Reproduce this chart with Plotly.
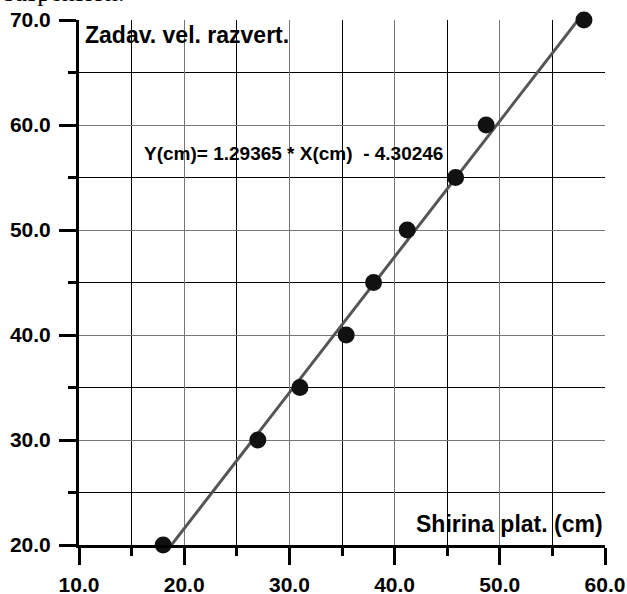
import plotly.graph_objects as go

# Data
x_vals = [18.0, 27.0, 31.0, 35.4, 38.0, 41.2, 45.8, 48.7, 58.0]
y_vals = [20, 30, 35, 40, 45, 50, 55, 60, 70]
slope = 1.29365
intercept = -4.30246
fit_x = [18.0, 58.2]
fit_y = [slope * v + intercept for v in fit_x]

x_ticks = [10, 20, 30, 40, 50, 60]
y_ticks = [20, 30, 40, 50, 60, 70]

FONT = "Liberation Sans, Arial, sans-serif"

fig = go.Figure()
fig.add_trace(go.Scatter(x=fit_x, y=fit_y, mode="lines",
                         line=dict(color="#555555", width=3), hoverinfo="skip"))
fig.add_trace(go.Scatter(x=x_vals, y=y_vals, mode="markers",
                         marker=dict(color="#111111", size=17), cliponaxis=False))

axis_common = dict(
    showline=True, linecolor="black", linewidth=3,
    ticks="outside", ticklen=17, tickwidth=3, tickcolor="black",
    showgrid=True, gridcolor="#777777", gridwidth=1,
    tickformat=".1f", zeroline=False, automargin=False,
    tickfont=dict(family=FONT, size=21, color="black", weight="bold"),
    minor=dict(dtick=5, ticks="outside", ticklen=8, tickwidth=3, tickcolor="black",
               showgrid=True, gridcolor="black", gridwidth=1),
)

fig.update_xaxes(range=[10, 60], tickvals=x_ticks, ticklabelstandoff=2, **axis_common)
fig.update_yaxes(range=[20, 70], tickvals=y_ticks, ticklabelstandoff=4, **axis_common)

fig.update_layout(
    width=627, height=594,
    margin=dict(l=79, r=22, t=20, b=49),
    plot_bgcolor="white", paper_bgcolor="white",
    showlegend=False,
    annotations=[
        dict(text="Zadav. vel. razvert.", xref="paper", yref="paper", x=0.008, y=1.0,
             xanchor="left", yanchor="top", showarrow=False,
             font=dict(family=FONT, size=23, color="black", weight="bold")),
        dict(text="Shirina plat. (cm)", xref="paper", yref="paper", x=1.0, y=0.012,
             xanchor="right", yanchor="bottom", showarrow=False,
             font=dict(family=FONT, size=23, color="black", weight="bold")),
        dict(text="Y(cm)= 1.29365 * X(cm)  - 4.30246", xref="paper", yref="paper",
             x=0.12, y=0.745, xanchor="left", yanchor="middle", showarrow=False,
             font=dict(family=FONT, size=19, color="black", weight="bold")),
        dict(text="suspension.", xref="paper", yref="paper", x=-0.147, y=1.021,
             xanchor="left", yanchor="bottom", showarrow=False,
             font=dict(family="Liberation Serif, Times New Roman, serif", size=26, color="black")),
    ],
)

fig.write_html("out.html", config={"displayModeBar": False},
               post_script="document.body.style.margin='0';")
